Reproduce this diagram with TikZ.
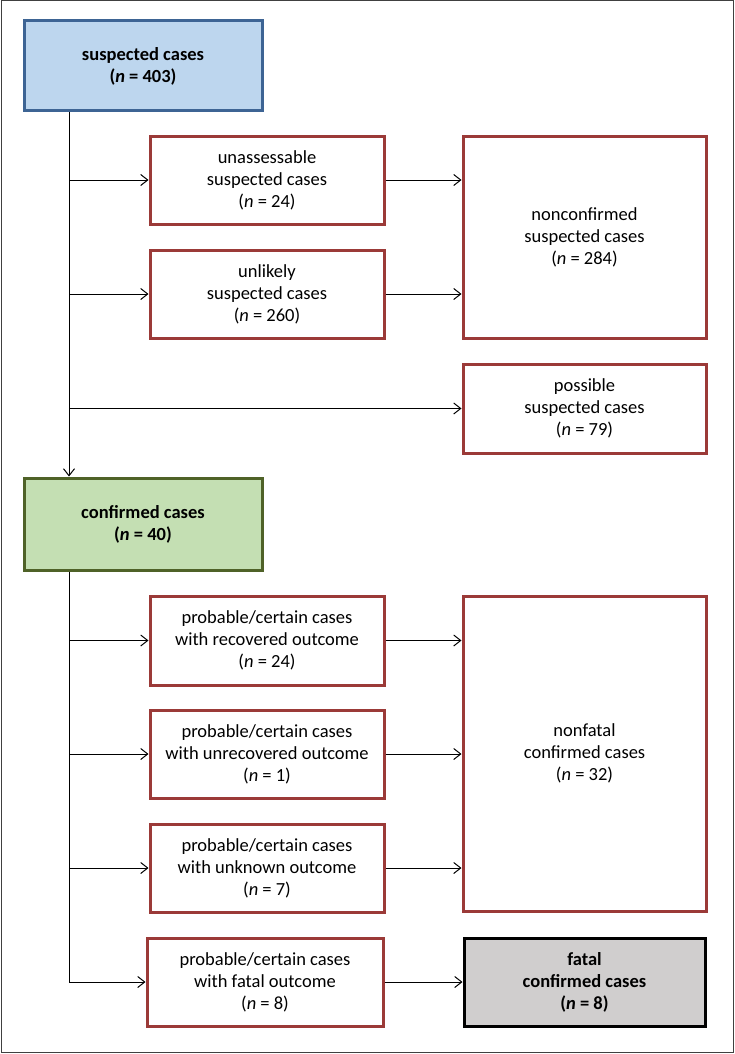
\documentclass[tikz,border=0pt]{standalone}
\usepackage{fontspec}
\setmainfont{Carlito}
\usetikzlibrary{arrows.meta}
\definecolor{bluefill}{HTML}{BDD6EE}
\definecolor{blueline}{HTML}{3D6494}
\definecolor{greenfill}{HTML}{C4DFB3}
\definecolor{greenline}{HTML}{4F6228}
\definecolor{redline}{HTML}{9B3A38}
\definecolor{greyfill}{HTML}{D0CECE}
\definecolor{frameline}{HTML}{404040}
\tikzset{
  box/.style={draw, line width=3pt, inner sep=0pt, align=center,
    font=\fontsize{18.5}{22}\selectfont},
  redbox/.style={box, draw=redline, fill=white},
  bluebox/.style={box, draw=blueline, fill=bluefill, font=\fontsize{18.5}{22}\selectfont\bfseries},
  greenbox/.style={box, draw=greenline, fill=greenfill, font=\fontsize{18.5}{22}\selectfont\bfseries},
  greybox/.style={box, draw=black, fill=greyfill, font=\fontsize{18.5}{22}\selectfont\bfseries},
  conn/.style={line width=1pt},
  arr/.style={conn, -{Straight Barb[length=7pt,width=11pt,line width=1pt]}}
}
\begin{document}
\begin{tikzpicture}[x=1pt,y=1pt]
\useasboundingbox (0,0) rectangle (734,-1054);
\draw[frameline, line width=1pt] (1,-1) rectangle (733,-1052);

\node[bluebox, minimum width=238pt, minimum height=90pt] (s) at (143,-66) {suspected cases\\(\textit{n} = 403)};
\node[redbox, minimum width=234pt, minimum height=88pt] (ua) at (267,-180) {unassessable\\suspected cases\\(\textit{n} = 24)};
\node[redbox, minimum width=234pt, minimum height=88pt] (ul) at (267,-294) {unlikely\\suspected cases\\(\textit{n} = 260)};
\node[redbox, minimum width=243pt, minimum height=202pt] (nc) at (584.5,-237) {nonconfirmed\\suspected cases\\(\textit{n} = 284)};
\node[redbox, minimum width=243pt, minimum height=89pt] (pos) at (584.5,-408.5) {possible\\suspected cases\\(\textit{n} = 79)};

\node[greenbox, minimum width=238pt, minimum height=92pt] (c) at (143,-524) {confirmed cases\\(\textit{n} = 40)};
\node[redbox, minimum width=234pt, minimum height=89pt] (rec) at (267,-640.5) {probable/certain cases\\with recovered outcome\\(\textit{n} = 24)};
\node[redbox, minimum width=234pt, minimum height=88pt] (unr) at (267,-754) {probable/certain cases\\with unrecovered outcome\\(\textit{n} = 1)};
\node[redbox, minimum width=234pt, minimum height=88pt] (unk) at (267,-868) {probable/certain cases\\with unknown outcome\\(\textit{n} = 7)};
\node[redbox, minimum width=236pt, minimum height=88pt] (fo) at (265,-982) {probable/certain cases\\with fatal outcome\\(\textit{n} = 8)};
\node[redbox, minimum width=243pt, minimum height=315pt] (nf) at (584.5,-753.5) {nonfatal\\confirmed cases\\(\textit{n} = 32)};
\node[greybox, minimum width=241pt, minimum height=88pt] (f) at (584.5,-982) {fatal\\confirmed cases\\(\textit{n} = 8)};

\coordinate (tr) at (69,0);
% upper trunk
\draw[arr] (s.south -| tr) -- (c.north -| tr);
\draw[arr] (ua.west -| tr) -- (ua.west);
\draw[arr] (ul.west -| tr) -- (ul.west);
\draw[arr] (pos.west -| tr) -- (pos.west);
\draw[arr] (ua.east) -- (ua.east -| nc.west);
\draw[arr] (ul.east) -- (ul.east -| nc.west);
% lower trunk
\draw[conn] (c.south -| tr) -- (fo.west -| tr);
\draw[arr] (rec.west -| tr) -- (rec.west);
\draw[arr] (unr.west -| tr) -- (unr.west);
\draw[arr] (unk.west -| tr) -- (unk.west);
\draw[arr] (fo.west -| tr) -- (fo.west);
\draw[arr] (rec.east) -- (rec.east -| nf.west);
\draw[arr] (unr.east) -- (unr.east -| nf.west);
\draw[arr] (unk.east) -- (unk.east -| nf.west);
\draw[arr] (fo.east) -- (f.west);
\end{tikzpicture}
\end{document}
